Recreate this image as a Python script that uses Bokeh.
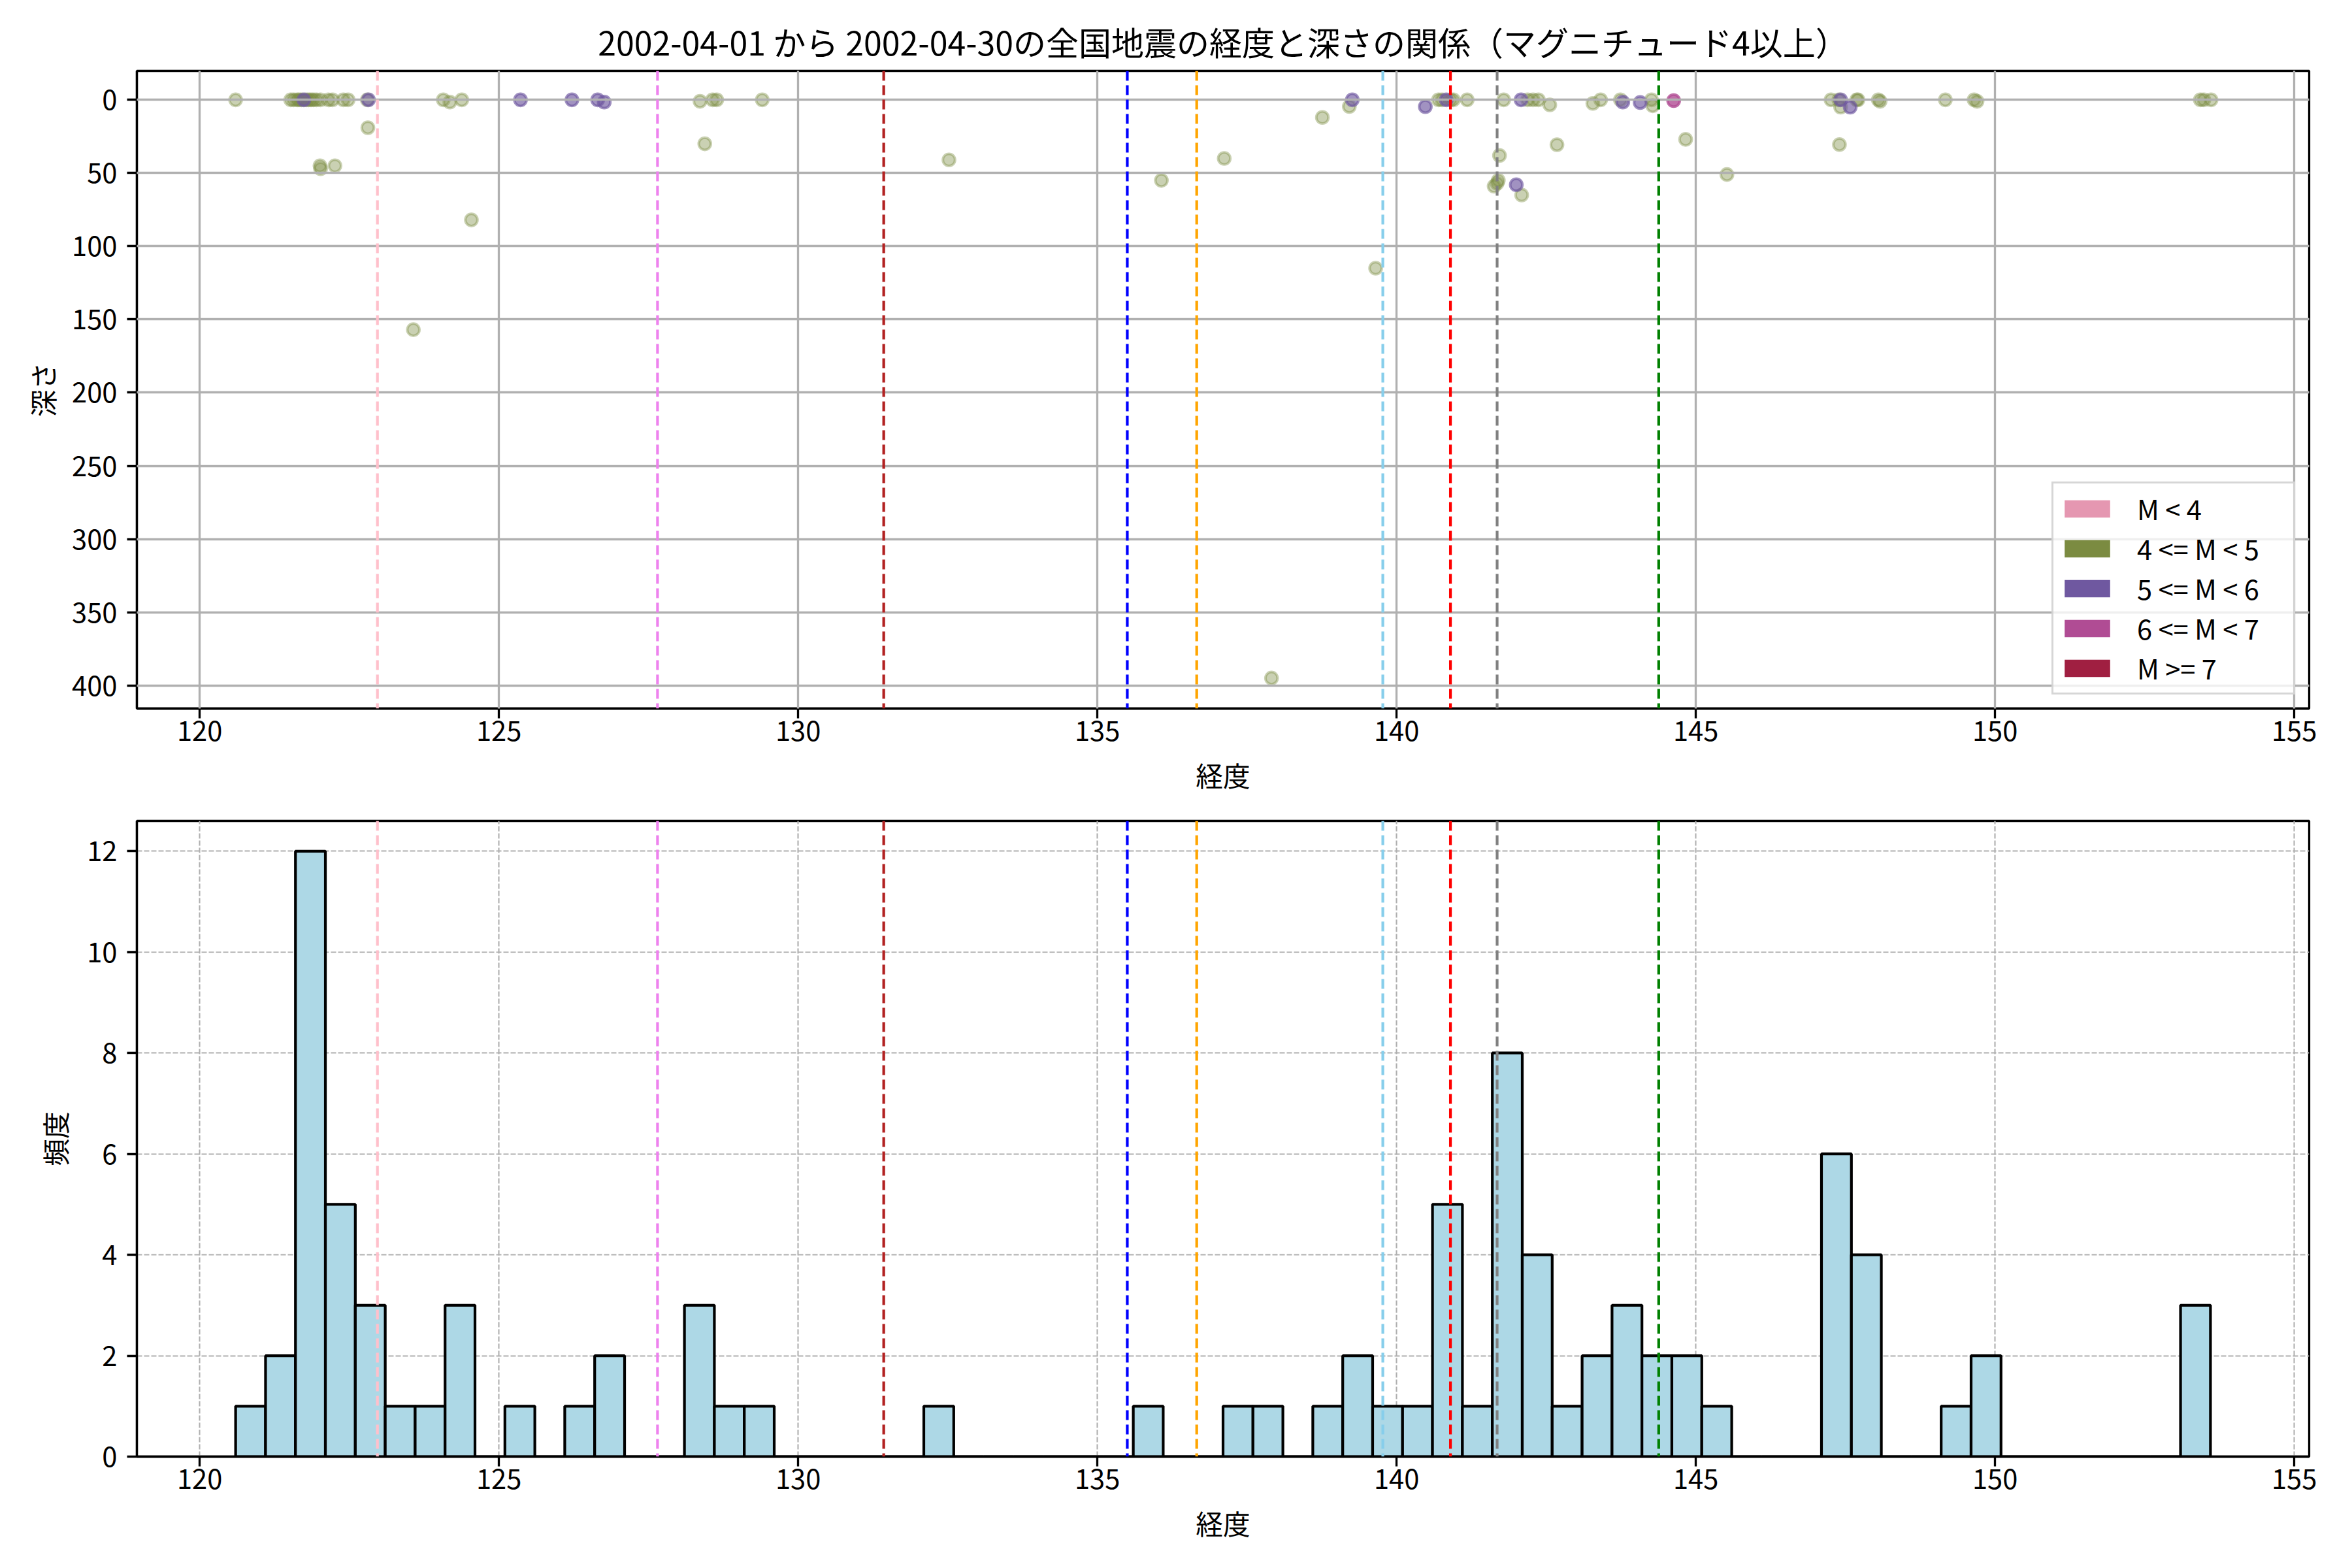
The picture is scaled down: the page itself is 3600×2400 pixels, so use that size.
from bokeh.plotting import figure
from bokeh.models import Range1d, Span, Legend, LegendItem, FixedTicker
from bokeh.layouts import column
from bokeh.embed import file_html
from bokeh.resources import INLINE

FONT = "Noto Sans CJK JP"

title_text = "2002-04-01 から 2002-04-30の全国地震の経度と深さの関係（マグニチュード4以上）"
x_label = "経度"
depth_label = "深さ"
freq_label = "頻度"

# magnitude classes (legend)
mag_labels = ["M < 4", "4 <= M < 5", "5 <= M < 6", "6 <= M < 7", "M >= 7"]
mag_colors = ["#E597B1", "#7B8B41", "#6F58A0", "#B04C94", "#A01F41"]

# 4 <= M < 5
lon_m4 = [120.60, 121.52, 121.57, 121.63, 121.66, 121.70, 121.78, 121.82, 121.86, 121.90,
          121.95, 122.02, 122.01, 122.02, 122.15, 122.22, 122.26, 122.40, 122.48, 122.81,
          122.80, 123.57, 124.07, 124.18, 124.38, 124.54, 128.36, 128.44, 128.57, 128.64,
          129.40, 132.52, 136.07, 137.12, 137.91, 138.76, 139.21, 139.65, 140.70, 140.76,
          140.90, 140.95, 141.18, 141.63, 141.68, 141.70, 141.72, 141.79, 142.09, 142.19,
          142.28, 142.37, 142.56, 142.68, 143.28, 143.41, 143.74, 144.26, 144.28, 144.83,
          145.52, 147.26, 147.39, 147.42, 147.40, 147.69, 147.71, 148.05, 148.08, 149.17,
          149.65, 149.70, 153.43, 153.49, 153.61]
depth_m4 = [0, 0, 0, 0, 0, 0, 0, 0, 0, 0,
            0, 0, 45, 47, 0, 0, 45, 0, 0, 19,
            0, 157, 0, 1.5, 0, 82, 1, 30, 0, 0,
            0, 41, 55, 40, 395, 12, 4.5, 115, 0, 0,
            0, 0, 0, 59, 57, 55, 38, 0, 65, 0,
            0, 0, 3.4, 30.6, 2.4, 0, 0, 0, 4, 27,
            51, 0, 0, 5, 30.5, 0, 0, 0, 1, 0,
            0, 1, 0, 0, 0]

# 5 <= M < 6
lon_m5 = [121.74, 122.82, 125.36, 126.22, 126.65, 126.76, 139.26, 140.48, 140.83, 142.00,
          142.08, 143.78, 144.07, 147.42, 147.58]
depth_m5 = [0, 0, 0, 0, 0, 1.5, 0, 4.6, 0, 58,
            0, 1.5, 1.8, 0, 5]

# 6 <= M < 7
lon_m6 = [144.63]
depth_m6 = [0.5]

# reference longitudes (dashed lines)
ref_lons = [122.97, 127.65, 131.43, 135.50, 136.66, 139.77, 140.90, 141.68, 144.38]
ref_colors = ["pink", "violet", "firebrick", "blue", "orange", "skyblue", "red", "gray", "green"]

# histogram (bin width 0.5 starting at 120.6)
hist_start = 120.6
hist_width = 0.5
hist_counts = [1, 2, 12, 5, 3, 1, 1, 3, 0, 1,
               0, 1, 2, 0, 0, 3, 1, 1, 0, 0,
               0, 0, 0, 1, 0, 0, 0, 0, 0, 0,
               1, 0, 0, 1, 1, 0, 1, 2, 1, 1,
               5, 1, 8, 4, 1, 2, 3, 2, 2, 1,
               0, 0, 0, 6, 4, 0, 0, 1, 2, 0,
               0, 0, 0, 0, 0, 3]

x_ticks = [120, 125, 130, 135, 140, 145, 150, 155]
depth_ticks = [0, 50, 100, 150, 200, 250, 300, 350, 400]
freq_ticks = [0, 2, 4, 6, 8, 10, 12]

FS = "41.7px"


def style_axes(p, ylabel_standoff):
    p.outline_line_color = "black"
    p.outline_line_width = 3.3
    p.outline_line_alpha = 1.0
    for ax in p.axis:
        ax.major_label_text_font = FONT
        ax.major_label_text_font_size = FS
        ax.major_label_text_color = "black"
        ax.major_tick_out = 15
        ax.major_tick_in = 0
        ax.minor_tick_out = 0
        ax.minor_tick_in = 0
        ax.major_tick_line_width = 3.3
        ax.major_tick_line_color = "black"
        ax.axis_line_width = 3.3
        ax.axis_line_color = "black"
        ax.axis_label_text_font = FONT
        ax.axis_label_text_font_size = FS
        ax.axis_label_text_font_style = "normal"
        ax.axis_label_text_color = "black"
    p.xaxis.major_label_standoff = 3
    p.xaxis.axis_label_standoff = 19
    p.yaxis.major_label_standoff = 15
    p.yaxis.axis_label_standoff = ylabel_standoff


# ---------------- top: scatter ----------------
p1 = figure(width=3592, height=1234, output_backend="svg", toolbar_location=None,
            x_range=Range1d(118.95, 155.25), y_range=Range1d(415.8, -19.8),
            min_border_left=209, min_border_right=58, min_border_top=108, min_border_bottom=150)
p1.title.text = title_text
p1.title.align = "center"
p1.title.text_font = FONT
p1.title.text_font_size = "50px"
p1.title.text_font_style = "normal"
p1.title.text_color = "black"
p1.title.standoff = 19

p1.xaxis.ticker = FixedTicker(ticks=x_ticks)
p1.yaxis.ticker = FixedTicker(ticks=depth_ticks)
p1.xaxis.axis_label = x_label
p1.yaxis.axis_label = depth_label
style_axes(p1, 12)
p1.grid.grid_line_color = "#b0b0b0"
p1.grid.grid_line_width = 3.3
p1.grid.level = "guide"

for lons, deps, col, a in [(lon_m4, depth_m4, mag_colors[1], 0.4),
                           (lon_m5, depth_m5, mag_colors[2], 0.65),
                           (lon_m6, depth_m6, mag_colors[3], 0.8)]:
    p1.scatter(lons, deps, size=18.6, fill_color=col, fill_alpha=a,
               line_color=col, line_alpha=a, line_width=4)

for lo, c in zip(ref_lons, ref_colors):
    p1.add_layout(Span(location=lo, dimension="height", line_color=c,
                       line_width=4.2, line_dash="15 7"))

items = []
for lab, col in zip(mag_labels, mag_colors):
    r = p1.rect(x=[-1000], y=[-1000], width=1, height=1, fill_color=col, line_color=None)
    items.append(LegendItem(label=lab, renderers=[r]))
legend = Legend(items=items, location="bottom_right", margin=21, padding=8,
                glyph_width=87, glyph_height=33, label_standoff=33, spacing=1,
                label_width=231,
                label_text_font=FONT, label_text_font_size=FS, label_text_color="black",
                border_line_color="#cccccc", border_line_width=3.3, border_line_alpha=0.8,
                background_fill_alpha=0.8)
p1.add_layout(legend, "center")

# ---------------- bottom: histogram ----------------
p2 = figure(width=3592, height=1145, output_backend="svg", toolbar_location=None,
            x_range=Range1d(118.95, 155.25), y_range=Range1d(0, 12.6),
            min_border_left=209, min_border_right=58, min_border_top=22, min_border_bottom=150)
p2.xaxis.ticker = FixedTicker(ticks=x_ticks)
p2.yaxis.ticker = FixedTicker(ticks=freq_ticks)
p2.xaxis.axis_label = x_label
p2.yaxis.axis_label = freq_label
style_axes(p2, 16)
p2.grid.grid_line_color = "#b0b0b0"
p2.grid.grid_line_width = 2.1
p2.grid.grid_line_dash = "8 3"

lefts = [hist_start + i * hist_width for i in range(len(hist_counts))]
rights = [l + hist_width for l in lefts]
p2.quad(left=lefts, right=rights, top=hist_counts, bottom=0,
        fill_color="#ADD8E6", line_color="black", line_width=4.2)

for lo, c in zip(ref_lons, ref_colors):
    p2.add_layout(Span(location=lo, dimension="height", line_color=c,
                       line_width=4.2, line_dash="15 7"))

layout = column(p1, p2, spacing=0)
open("out.html", "w").write(file_html(layout, INLINE))
